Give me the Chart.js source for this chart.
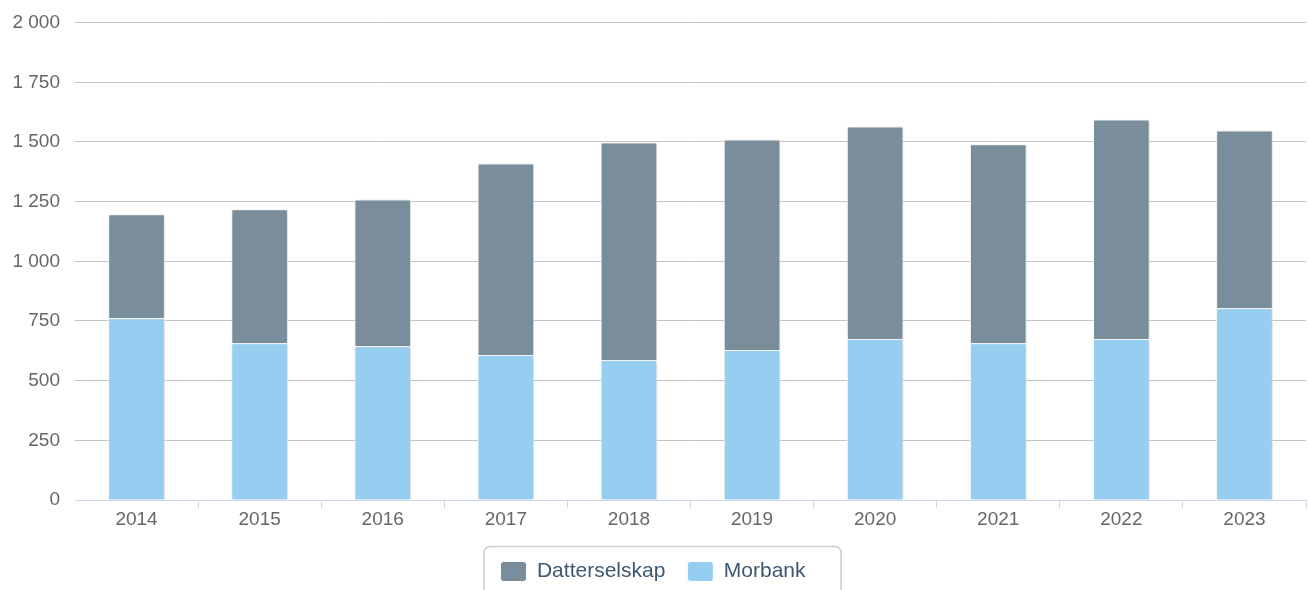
<!DOCTYPE html>
<html lang="no">
<head>
<meta charset="UTF-8">
<title>Datterselskap og Morbank</title>
<script src="https://cdn.jsdelivr.net/npm/chart.js"></script>
<style>
    html, body { margin: 0; padding: 0; background: #fff; overflow: hidden; }
    #wrap { position: relative; width: 1309px; height: 592px; }
</style>
</head>
<body>
<div id="wrap"><canvas id="chart"></canvas></div>
<script>
    const years = ['2014', '2015', '2016', '2017', '2018', '2019', '2020', '2021', '2022', '2023'];
    const morbank = [761, 657, 644, 607, 586, 628, 674, 657, 674, 803];
    const datterselskap = [436, 561, 615, 803, 912, 882, 891, 833, 920, 745];
    const yMin = 0, yMax = 2000, yStep = 250;

    // "2000" -> "2 000"
    function fmt(v) {
        return String(v).replace(/\B(?=(\d{3})+(?!\d))/g, ' ');
    }

    // light shadow behind the bars
    const barShadow = {
        id: 'barShadow',
        beforeDatasetsDraw(chart) {
            const c = chart.ctx;
            c.save();
            c.shadowColor = 'rgba(0,0,0,0.18)';
            c.shadowBlur = 4;
            c.shadowOffsetX = 1;
            c.shadowOffsetY = 1;
        },
        afterDatasetsDraw(chart) {
            chart.ctx.restore();
        }
    };

    // rounded frame round the legend
    const legendFrame = {
        id: 'legendFrame',
        afterDraw(chart) {
            const boxes = chart.legend && chart.legend.legendHitBoxes;
            if (!boxes || !boxes.length) return;
            const left = Math.min(...boxes.map(b => b.left)) - 17;
            const right = Math.max(...boxes.map(b => b.left + b.width)) + 35;
            const top = boxes[0].top - 15;
            const bottom = boxes[0].top + boxes[0].height + 15;
            const c = chart.ctx;
            c.save();
            c.strokeStyle = '#cccccc';
            c.lineWidth = 1.5;
            c.beginPath();
            c.roundRect(left + 0.5, top + 0.5, right - left, bottom - top, 6);
            c.stroke();
            c.restore();
        }
    };

    new Chart(document.getElementById('chart'), {
        type: 'bar',
        data: {
            labels: years,
            datasets: [
                {
                    label: 'Morbank',
                    data: morbank,
                    backgroundColor: '#95cef1',
                    borderColor: '#ffffff',
                    borderWidth: 1
                },
                {
                    label: 'Datterselskap',
                    data: datterselskap,
                    backgroundColor: '#7a8d9b',
                    borderColor: '#ffffff',
                    borderWidth: 1
                }
            ]
        },
        options: {
            responsive: true,
            maintainAspectRatio: false,
            animation: false,
            barPercentage: 0.46,
            categoryPercentage: 1,
            layout: { padding: { top: 22, right: 3, left: 0, bottom: 0 } },
            scales: {
                x: {
                    stacked: true,
                    grid: {
                        offset: true,
                        drawOnChartArea: false,
                        drawTicks: true,
                        tickLength: 8,
                        // no tick marks at the two ends of the axis
                        color: c => (c.index === 0 || c.index === years.length) ? 'rgba(0,0,0,0)' : '#ccd6eb'
                    },
                    border: { display: true, color: '#ccd6eb', width: 1 },
                    ticks: {
                        padding: 0,
                        color: '#666666',
                        font: { family: 'Liberation Sans, Arial, sans-serif', size: 19 }
                    },
                    afterFit: s => { s.height = 39; }
                },
                y: {
                    stacked: true,
                    min: yMin,
                    max: yMax,
                    grid: { color: '#c4c4c4', drawTicks: false, lineWidth: 1 },
                    border: { display: false },
                    ticks: {
                        stepSize: yStep,
                        padding: 15,
                        color: '#666666',
                        font: { family: 'Liberation Sans, Arial, sans-serif', size: 19, lineHeight: 0.8 },
                        callback: v => fmt(v)
                    },
                    afterFit: s => { s.width = 75; }
                }
            },
            plugins: {
                tooltip: { enabled: false },
                legend: {
                    position: 'bottom',
                    reverse: true,
                    labels: {
                        boxWidth: 26,
                        boxHeight: 20,
                        useBorderRadius: true,
                        borderRadius: 3,
                        padding: 22,
                        color: '#3e5670',
                        font: { family: 'Liberation Sans, Arial, sans-serif', size: 21 }
                    }
                }
            }
        },
        plugins: [barShadow, legendFrame]
    });
</script>
</body>
</html>
